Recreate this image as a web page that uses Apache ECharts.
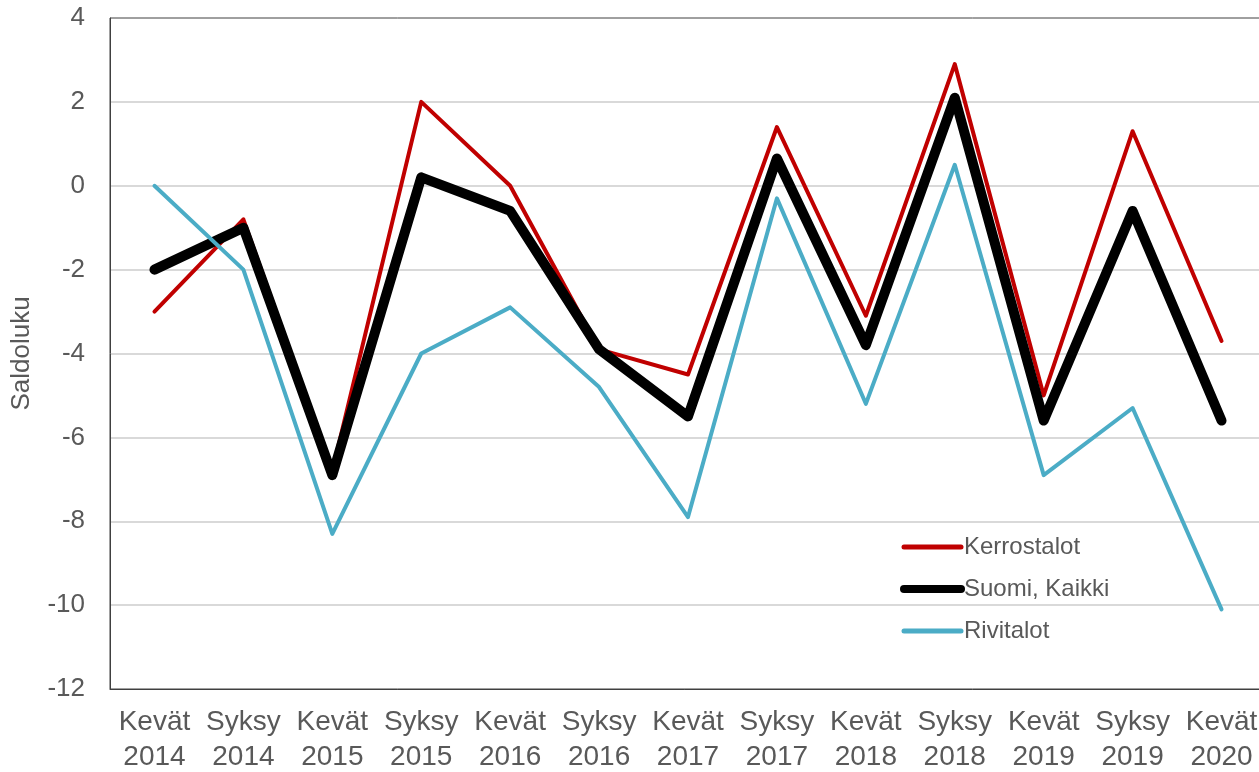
<!DOCTYPE html>
<html>
<head>
<meta charset="utf-8">
<script src="https://cdn.jsdelivr.net/npm/echarts@6/dist/echarts.min.js"></script>
<style>
  html, body { margin: 0; padding: 0; background: #fff; }
  #chart { width: 1259px; height: 772px; }
</style>
</head>
<body>
<div id="chart"></div>
<script>
  const categories = ['Kevät\n2014', 'Syksy\n2014', 'Kevät\n2015', 'Syksy\n2015', 'Kevät\n2016', 'Syksy\n2016',
    'Kevät\n2017', 'Syksy\n2017', 'Kevät\n2018', 'Syksy\n2018', 'Kevät\n2019', 'Syksy\n2019', 'Kevät\n2020']
  const kerrostalot = [-3.0, -0.8, -6.8, 2.0, 0.0, -3.9, -4.5, 1.4, -3.1, 2.9, -5.0, 1.3, -3.7]
  const suomiKaikki = [-2.0, -1.0, -6.9, 0.2, -0.6, -3.9, -5.5, 0.65, -3.8, 2.1, -5.6, -0.6, -5.6]
  const rivitalot = [0.0, -2.0, -8.3, -4.0, -2.9, -4.8, -7.9, -0.3, -5.2, 0.5, -6.9, -5.3, -10.1]

  const font = 'Liberation Sans, Arial, sans-serif'
  const chart = echarts.init(document.getElementById('chart'))

  function lineSeries (name, data, color, width) {
    return {
      name: name,
      type: 'line',
      data: data,
      symbol: 'none',
      animation: false,
      lineStyle: { color: color, width: width, cap: 'round', join: 'round' },
      itemStyle: { color: color }
    }
  }

  function legendItem (name, color, width) {
    return {
      name: name,
      itemStyle: { opacity: 0 },
      lineStyle: { color: color, width: width, cap: 'round' }
    }
  }

  chart.setOption({
    backgroundColor: '#fff',
    grid: {
      left: 110,
      top: 18,
      width: 1156,
      height: 671,
      containLabel: false,
      outerBoundsMode: 'none',
      show: true,
      borderColor: '#404040',
      borderWidth: 1
    },
    legend: {
      orient: 'vertical',
      left: 900,
      top: 535,
      padding: 0,
      itemWidth: 57,
      itemHeight: 14,
      itemGap: 18,
      textStyle: { fontFamily: font, fontSize: 24, lineHeight: 24, color: '#595959', padding: [0, 0, 0, -2] },
      data: [
        legendItem('Kerrostalot', '#c00000', 5),
        legendItem('Suomi, Kaikki', '#000000', 8),
        legendItem('Rivitalot', '#4bacc6', 5)
      ]
    },
    xAxis: {
      type: 'category',
      data: categories,
      boundaryGap: true,
      axisLine: { show: true, onZero: false, lineStyle: { color: '#404040', width: 1 } },
      axisTick: { show: false },
      axisLabel: {
        interval: 0,
        margin: 16,
        fontFamily: font,
        fontSize: 28,
        lineHeight: 35,
        color: '#595959'
      }
    },
    yAxis: {
      type: 'value',
      min: -12,
      max: 4,
      interval: 2,
      name: 'Saldoluku',
      nameLocation: 'middle',
      nameGap: 75,
      nameTextStyle: { fontFamily: font, fontSize: 26, color: '#595959' },
      axisLine: { show: true, lineStyle: { color: '#404040', width: 1 } },
      axisTick: { show: false },
      splitLine: { showMinLine: false, showMaxLine: false, lineStyle: { color: '#d9d9d9', width: 2 } },
      axisLabel: { margin: 25, fontFamily: font, fontSize: 26, color: '#595959' }
    },
    series: [
      lineSeries('Kerrostalot', kerrostalot, '#c00000', 4),
      lineSeries('Suomi, Kaikki', suomiKaikki, '#000000', 10),
      lineSeries('Rivitalot', rivitalot, '#4bacc6', 4)
    ]
  })
</script>
</body>
</html>
